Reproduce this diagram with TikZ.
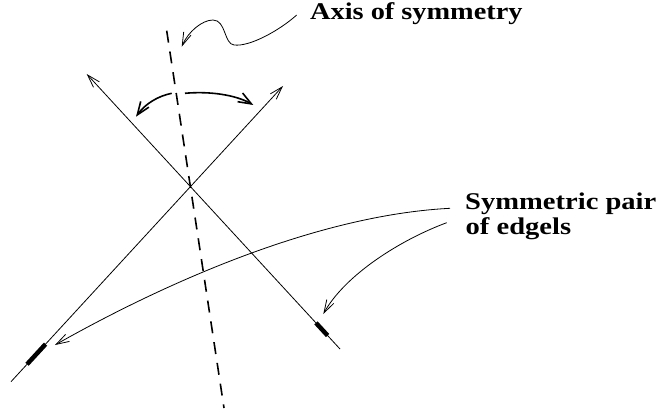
\documentclass[tikz,border=0pt]{standalone}
\usepackage{fontspec}
\setmainfont{Liberation Serif}
\usetikzlibrary{arrows.meta,calc}
\begin{document}
\begin{tikzpicture}[x=1pt,y=-1pt,
  thinline/.style={line width=0.8pt},
  barb/.style={thinline,-{Straight Barb[length=13pt,width=8pt]}},
  axisline/.style={line width=1.6pt, dash pattern=on 12pt off 9pt},
  edgel/.style={line width=4.5pt},
  swing/.style={line width=1.6pt,-{Straight Barb[length=13pt,width=10pt]}},
  lbl/.style={font=\fontsize{24}{25}\selectfont\bfseries, inner sep=0pt, anchor=base west}]
\useasboundingbox (0,0) rectangle (658,409);
% main lines
\coordinate (a1) at (11,381.7);
\coordinate (a2) at (283,86);
\coordinate (b1) at (340,349);
\coordinate (b2) at (86.7,74);
\draw[barb] (a1) -- (a2);
\draw[barb] (b1) -- (b2);
% axis of symmetry
\coordinate (ax1) at (166.7,30.7);
\coordinate (ax2) at (224,408);
\draw[axisline] (ax1) -- (ax2);
% edgels
\draw[edgel] ($(a1)!0.059!(a2)$) -- ($(a1)!0.127!(a2)$);
\draw[edgel] ($(b2)!0.905!(b1)$) -- ($(b2)!0.951!(b1)$);
% swing arrows
\coordinate (sl0) at (171.7,93.3);
\coordinate (sl1) at (136,116.7);
\coordinate (sr0) at (185,93.3);
\coordinate (sr1) at (253.3,105);
\draw[swing] (sl0) .. controls (158,96) and (145,104) .. (sl1);
\draw[swing] (sr0) .. controls (210,91) and (236,95) .. (sr1);
% labels
\node[lbl] (axis) at (310,20) {\scalebox{1.18}[1]{Axis of symmetry}};
\node[lbl] (sym) at (465,209.3) {\scalebox{1.19}[1]{Symmetric pair}};
\node[lbl] (edg) at (465.5,234.3) {\scalebox{1.19}[1]{of edgels}};
% label connectors
\coordinate (q0) at (296.7,15);
\coordinate (q1) at (234,45);
\coordinate (q2) at (213,20);
\coordinate (q3) at (181.7,46.7);
\draw[barb] (q0) .. controls (280,30) and (250,47) .. (q1)
  .. controls (224,44) and (226,20) .. (q2)
  .. controls (202,20) and (188,32) .. (q3);
\coordinate (p0) at (450,208.3);
\coordinate (p1) at (55,345);
\draw[barb] (p0) .. controls (320,215) and (170,280) .. (p1);
\coordinate (r0) at (446.7,222.7);
\coordinate (r1) at (323.3,314);
\draw[barb] (r0) .. controls (400,240) and (345,275) .. (r1);
\end{tikzpicture}
\end{document}
